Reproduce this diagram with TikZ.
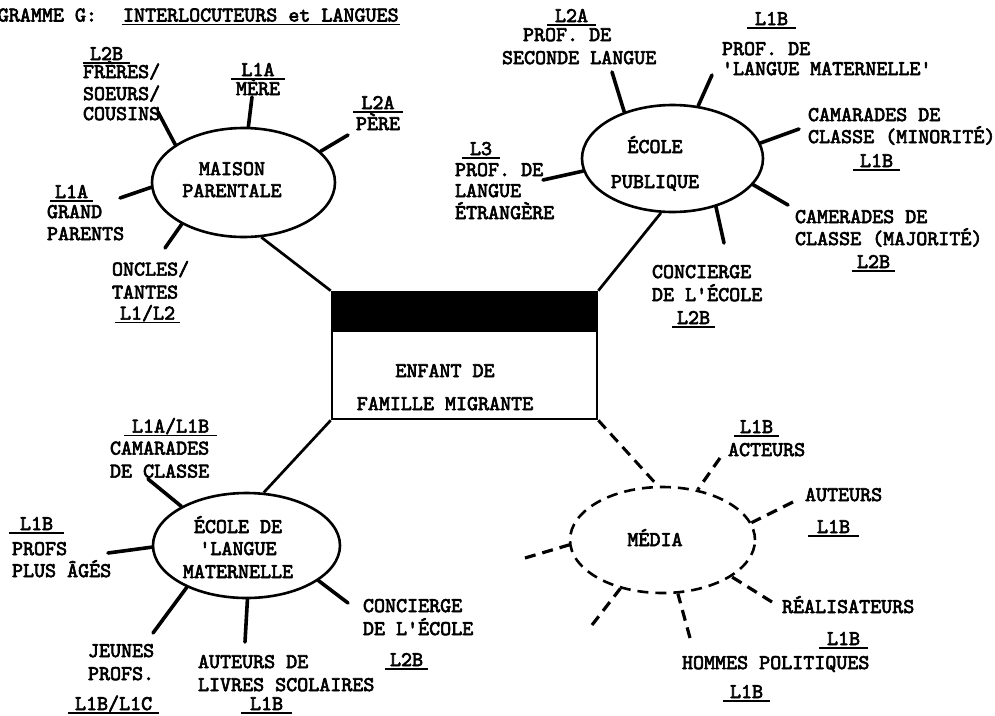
\documentclass[tikz,border=0pt]{standalone}
\usepackage{fontspec}
\usetikzlibrary{shapes.geometric}
\newfontfamily\twfont{lmmono10-regular}[Extension=.otf, FakeBold=3]
\newcommand\lblfont{\fontsize{21}{22}\selectfont\twfont\lineskiplimit=-50pt\relax}
\newcommand\ucode[2][7pt]{\setbox0\hbox{#2}\rlap{\kern-#1\smash{\rule[-3.9pt]{\dimexpr\wd0+#1*2\relax}{1.8pt}}}\box0}
\newcommand\fl{\rule{0pt}{13pt}}
\tikzset{
  lbl/.style={font=\lblfont, inner sep=0pt, outer sep=0pt},
  blockl/.style={lbl, align=left, anchor=north west},
  blockc/.style={lbl, align=center, anchor=north},
  hub/.style={ellipse, draw, line width=2.6pt, inner sep=0pt},
  dhub/.style={hub, dash pattern=on 11pt off 7pt},
  spoke/.style={line width=3.6pt, line cap=round},
  dspoke/.style={line width=3.2pt, dash pattern=on 11pt off 7pt},
  link/.style={line width=2.7pt},
  dlink/.style={link, line width=3pt, dash pattern=on 11pt off 7pt},
}
\begin{document}
\begin{tikzpicture}[x=1pt,y=-1pt]
\useasboundingbox (0,0) rectangle (995,715);
\clip (0,0) rectangle (995,715);
% title
\node[lbl, anchor=base east] (t1) at (97,21.5) {DIAGRAMME G:};
\node[lbl, anchor=base west] (t2) at (123,21.5) {\ucode[1.5pt]{INTERLOCUTEURS et LANGUES}};
% hubs
\node[hub, minimum width=183pt, minimum height=109pt] (mp) at (243.5,182.5) {};
\node[blockc] (mpt) at (232,162) {\fl MAISON\\PARENTALE};
\node[hub, minimum width=181pt, minimum height=107pt] (ep) at (672.5,158.5) {};
\node[blockc] (ept) at (655,140) {\fl\smash{ÉCOLE}\\[13pt]PUBLIQUE};
\node[hub, minimum width=187pt, minimum height=105pt] (elm) at (246.5,545.5) {};
\node[blockc] (elmt) at (238,520) {\fl\smash{ÉCOLE DE}\\'LANGUE\\[1pt]MATERNELLE};
\node[dhub, minimum width=185pt, minimum height=106pt] (md) at (662.5,540) {};
\node[lbl, anchor=base] (mdt) at (655,546) {MÉDIA};
% centre box
\node[draw, line width=2.6pt, minimum width=265pt, minimum height=127pt, inner sep=0pt] (ct) at (464.5,355.5) {};
\fill (ct.north west) rectangle ([yshift=-41pt]ct.north east);
\node[blockc] (ctt) at (445,364) {\fl ENFANT DE\\[11pt]FAMILLE MIGRANTE};
% links
\draw[link] (mp.288) -- (ct.north west);
\draw[link] (ep.258) -- (ct.north east);
\draw[link] (elm.72) -- (ct.south west);
\draw[dlink] (ct.south east) -- (md.95);
% maison labels
\node[blockl] (l-cous) at (83,47) {\fl\hspace*{7pt}\ucode{L2B}\\[-4pt]FRÈRES/\\SOEURS/\\[-2pt]COUSINS};
\node[blockc] (l-mere) at (258,63) {\fl\ucode[10pt]{L1A}\\[-3pt]MÈRE};
\node[blockc] (l-pere) at (378,96) {\fl\ucode[8pt]{L2A}\\[-1pt]PÈRE};
\node[blockl] (l-gp) at (47,185) {\fl\hspace*{8pt}\ucode[5pt]{L1A}\\[-2pt]GRAND\\PARENTS};
\node[blockl] (l-onc) at (112,261) {\fl ONCLES/\\[1pt]TANTES\\[-1pt]\hspace*{8pt}\ucode[5pt]{L1/L2}};
\coordinate (s-cous) at (158,112);
\coordinate (s-mere) at (252,97);
\coordinate (s-pere) at (348,135);
\coordinate (s-gp) at (120,198);
\coordinate (s-onc) at (165,248);
\draw[spoke] (mp.151) -- (s-cous);
\draw[spoke] (mp.85) -- (s-mere);
\draw[spoke] (mp.22.5) -- (s-pere);
\draw[spoke] (mp.183) -- (s-gp);
\draw[spoke] (mp.214) -- (s-onc);
% ecole publique labels
\node[blockl] (l-sec) at (502,9) {\fl\hspace*{53pt}\ucode[8pt]{L2A}\\[-3pt]\hspace*{21pt}PROF. DE\\[1pt]SECONDE LANGUE};
\node[blockl] (l-mat) at (722,12) {\fl\hspace*{33pt}\ucode[8pt]{L1B}\\[8pt]PROF. DE\\[-2pt]'LANGUE MATERNELLE'};
\node[blockl] (l-min) at (808,108) {\fl CAMARADES DE\\CLASSE (MINORITÉ)\\[2pt]\hspace*{52pt}\ucode[7pt]{L1B}};
\node[blockl] (l-maj) at (795,210) {\fl CAMERADES DE\\CLASSE (MAJORITÉ)\\[1pt]\hspace*{62pt}\ucode[5pt]{L2B}};
\node[blockl] (l-epc) at (652,265) {\fl CONCIERGE\\[1pt]DE L'ÉCOLE\\[1pt]\hspace*{25pt}\ucode[5pt]{L2B}};
\node[blockl] (l-l3) at (455,142) {\fl\hspace*{15pt}\ucode[8pt]{L3}\\[-1pt]PROF. DE\\[-1pt]LANGUE\\ÉTRANGÈRE};
\coordinate (s-sec) at (612,72);
\coordinate (s-mat) at (712,75);
\coordinate (s-min) at (799,129);
\coordinate (s-maj) at (788,205);
\coordinate (s-con) at (724,243);
\coordinate (s-l3) at (543,180);
\draw[spoke] (ep.136) -- (s-sec);
\draw[spoke] (ep.64) -- (s-mat);
\draw[spoke] (ep.10) -- (s-min);
\draw[spoke] (ep.342) -- (s-maj);
\draw[spoke] (ep.312) -- (s-con);
\draw[spoke] (ep.188) -- (s-l3);
% ecole de langue maternelle labels
\node[blockl] (l-cam) at (110,418) {\fl\hspace*{22pt}\ucode[8pt]{L1A/L1B}\\CAMARADES\\[1pt]DE CLASSE};
\node[blockl] (l-prof) at (12,517) {\fl\hspace*{8pt}\ucode[11pt]{L1B}\\[3pt]PROFS\\PLUS ÂGÉS};
\node[blockl] (l-jeu) at (75,644) {\fl\hspace*{13pt}JEUNES\\[1pt]\hspace*{13pt}PROFS.\\[8pt]\ucode[7pt]{L1B/L1C}};
\node[blockl] (l-aut) at (198,655) {\fl AUTEURS DE\\[1pt]LIVRES SCOLAIRES\\[-3pt]\hspace*{52pt}\ucode[9pt]{L1B}};
\node[blockl] (l-elc) at (363,599) {\fl CONCIERGE\\[1pt]DE L'ÉCOLE\\[9pt]\hspace*{27pt}\ucode[5pt]{L2B}};
\coordinate (s-cam) at (148,479);
\coordinate (s-prof) at (108,553);
\coordinate (s-jeu) at (153,633);
\coordinate (s-aut) at (245,642);
\coordinate (s-conc) at (348,603);
\draw[spoke] (elm.149) -- (s-cam);
\draw[spoke] (elm.181) -- (s-prof);
\draw[spoke] (elm.215) -- (s-jeu);
\draw[spoke] (elm.271) -- (s-aut);
\draw[spoke] (elm.334) -- (s-conc);
% media labels
\node[blockl] (l-act) at (728,420) {\fl\hspace*{12pt}\ucode[6pt]{L1B}\\[1pt]ACTEURS};
\node[blockl] (l-maut) at (805,488) {\fl AUTEURS\\[10pt]\hspace*{12pt}\ucode[9pt]{L1B}};
\node[blockl] (l-real) at (782,600) {\fl\smash{RÉALISATEURS}\\[10pt]\hspace*{45pt}\ucode[8pt]{L1B}};
\node[blockl] (l-hom) at (682,656) {\fl HOMMES POLITIQUES\\[7pt]\hspace*{48pt}\ucode[7pt]{L1B}};
\coordinate (m-act) at (720,458);
\coordinate (m-aut) at (793,502);
\coordinate (m-real) at (772,602);
\coordinate (m-hom) at (690,638);
\coordinate (m-ll) at (592,625);
\coordinate (m-left) at (525,558);
\draw[dspoke] (m-act) -- (md.55);
\draw[dspoke] (m-aut) -- (md.11);
\draw[dspoke] (m-real) -- (md.332);
\draw[dspoke] (m-hom) -- (md.286);
\draw[dspoke] (m-ll) -- (md.229);
\draw[dspoke] (m-left) -- (md.183);
\end{tikzpicture}
\end{document}
